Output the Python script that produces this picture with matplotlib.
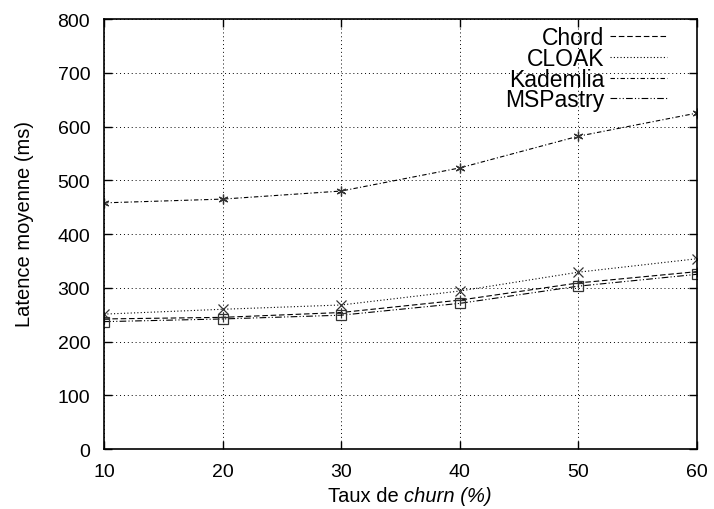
import matplotlib
matplotlib.use("Agg")
import matplotlib.pyplot as plt
from matplotlib.lines import Line2D
from matplotlib.offsetbox import TextArea, HPacker, AnchoredOffsetbox

plt.rcParams['font.family'] = ['Liberation Sans', 'DejaVu Sans']

churn = [10, 20, 30, 40, 50, 60]
chord = [242, 245, 254, 277, 309, 330]
cloak = [251, 260, 268, 294, 329, 354]
kademlia = [458, 465, 480, 523, 582, 625]
mspastry = [237, 242, 249, 271, 303, 325]

labels = ["Chord", "CLOAK", "Kademlia", "MSPastry"]
series = [chord, cloak, kademlia, mspastry]
styles = [(0, (5, 2.5)), (0, (1, 2)), (0, (4, 2, 1, 2)), (0, (6, 2, 1, 2, 1, 2))]
markers = ["+", "x", (6, 2, 0), "s"]

fig = plt.figure(figsize=(7.14, 5.1), dpi=100)
ax = fig.add_axes([0.1457, 0.1176, 0.8303, 0.8431])

handles = []
for lab, ys, ls, mk in zip(labels, series, styles, markers):
    ax.plot(churn, ys, linestyle=ls, color='black', linewidth=0.8,
            marker=mk, markersize=7, markerfacecolor='none',
            markeredgecolor='#333333', markeredgewidth=0.9)
    handles.append(Line2D([0], [0], linestyle=ls, color='black', linewidth=0.8))

ax.set_xlim(10, 60)
ax.set_ylim(0, 800)
ax.set_xticks(churn)
ax.set_yticks(range(0, 801, 100))
ax.tick_params(direction='in', length=6, width=1, top=True, right=True, labelsize=14)
ax.tick_params(axis='y', pad=10)
ax.tick_params(axis='x', pad=10)
ax.grid(True, linestyle=(0, (1, 3)), color='black', linewidth=0.7)
for s in ax.spines.values():
    s.set_linewidth(1.2)

ax.set_ylabel("Latence moyenne (ms)", fontsize=14.5)
ax.yaxis.set_label_coords(-0.118, 0.526)

t1 = TextArea("Taux de", textprops=dict(size=14.5))
t2 = TextArea("churn (%)", textprops=dict(size=14.5, style='italic'))
box = HPacker(children=[t1, t2], align='baseline', pad=0, sep=4)
xlab = AnchoredOffsetbox(loc='upper center', child=box, pad=0, borderpad=0, frameon=False,
                         bbox_to_anchor=(0.516, -0.085), bbox_transform=ax.transAxes)
ax.add_artist(xlab)

leg = ax.legend(handles, labels, loc='upper right', frameon=False, markerfirst=False,
                fontsize=16.5, handlelength=2.5, labelspacing=-0.1, borderaxespad=0.5,
                handletextpad=0.25, bbox_to_anchor=(0.985, 1.031))
for t in leg.get_texts():
    t.set_ha('right')

fig.savefig("out.png", dpi=100)
